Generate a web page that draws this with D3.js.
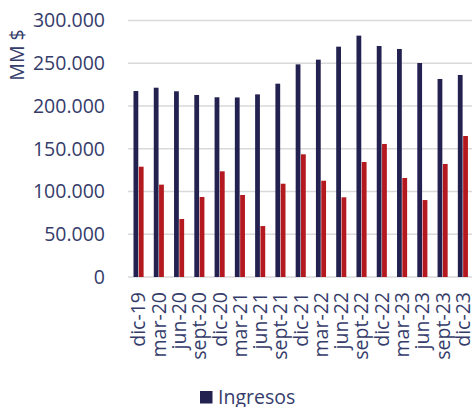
<!DOCTYPE html>
<html>
<head>
<meta charset="utf-8">
<script src="https://cdn.jsdelivr.net/npm/d3@7"></script>
<style>
  body { margin: 0; background: #fff; }
  svg { display: block; font-family: "Open Sans", sans-serif; }
</style>
</head>
<body>
<div id="chart"></div>
<script>
const categories = ["dic-19", "mar-20", "jun-20", "sept-20", "dic-20", "mar-21", "jun-21", "sept-21",
  "dic-21", "mar-22", "jun-22", "sept-22", "dic-22", "mar-23", "jun-23", "sept-23", "dic-23"];
const ingresos = [217500, 221400, 217200, 212900, 210200, 210000, 213600, 226100,
  248700, 254200, 269400, 282300, 270200, 266700, 250300, 231600, 236300];
const serie2 = [129000, 108000, 67800, 93600, 123600, 95900, 59600, 109100,
  143500, 112600, 93200, 134500, 155600, 115800, 90000, 132200, 164900];
const yTicks = [0, 50000, 100000, 150000, 200000, 250000, 300000];

const width = 472, height = 407;
const textColor = "#353c6a";
const colors = { ingresos: "#232150", serie2: "#b3191f" };

const svg = d3.select("#chart").append("svg")
    .attr("width", width)
    .attr("height", height);

const x = d3.scaleBand().domain(categories).range([128, 472.6]).padding(0);
const x1 = d3.scaleBand().domain(["ingresos", "serie2"]).range([5.5, 15.6]).paddingInner(0.1);
const y = d3.scaleLinear().domain([0, 300000]).range([277, 20.5]);

const fmt = v => v === 0 ? "0" : d3.format(",")(v).replace(/,/g, ".");

// gridlines
svg.append("g").selectAll("line")
    .data(yTicks)
    .join("line")
    .attr("x1", 128).attr("x2", width)
    .attr("y1", d => y(d)).attr("y2", d => y(d))
    .attr("stroke", "#d9d9d9")
    .attr("stroke-width", 1.5);

// y tick labels
svg.append("g").selectAll("text")
    .data(yTicks)
    .join("text")
    .attr("x", 105)
    .attr("y", d => y(d))
    .attr("dy", "0.35em")
    .attr("text-anchor", "end")
    .attr("fill", textColor)
    .style("font-size", "19.5px")
    .text(fmt);

// y axis title
svg.append("text")
    .attr("transform", "translate(24,55) rotate(-90)")
    .attr("text-anchor", "middle")
    .attr("fill", textColor)
    .style("font-size", "19.5px")
    .text("MM $");

// bars
const rows = categories.map((c, i) => ({ cat: c, ingresos: ingresos[i], serie2: serie2[i] }));
const groups = svg.append("g").selectAll("g")
    .data(rows)
    .join("g")
    .attr("transform", d => `translate(${x(d.cat)},0)`);

groups.selectAll("rect")
    .data(d => ["ingresos", "serie2"].map(k => ({ key: k, value: d[k] })))
    .join("rect")
    .attr("x", d => x1(d.key))
    .attr("width", x1.bandwidth())
    .attr("y", d => y(d.value))
    .attr("height", d => y(0) - y(d.value))
    .attr("fill", d => colors[d.key]);

// x labels
svg.append("g").selectAll("text")
    .data(categories)
    .join("text")
    .attr("transform", d => `translate(${x(d) + x.bandwidth() / 2 + 0.5},292) rotate(-90)`)
    .attr("text-anchor", "end")
    .attr("dy", "0.35em")
    .attr("fill", textColor)
    .style("font-size", "19.5px")
    .text(d => d);

// legend
const legend = svg.append("g").attr("transform", "translate(200,391)");
legend.append("rect")
    .attr("width", 12.5).attr("height", 12.5)
    .attr("fill", colors.ingresos);
legend.append("text")
    .attr("x", 18).attr("y", 12.5)
    .attr("fill", textColor)
    .style("font-size", "19.5px")
    .text("Ingresos");
</script>
</body>
</html>
